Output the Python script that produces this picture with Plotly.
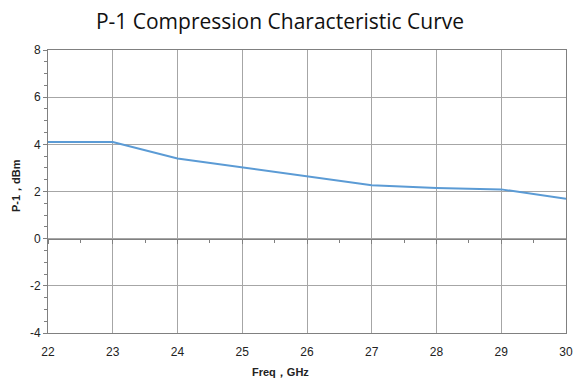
import plotly.graph_objects as go

freq = [22, 23, 24, 25, 26, 27, 28, 29, 30]
p1 = [4.1, 4.1, 3.4, 3.03, 2.63, 2.27, 2.15, 2.09, 1.69]
y_ticks = [-4, -2, 0, 2, 4, 6, 8]
y_labels = ["-4", "-2", "0", "2", "4", "6", "8"]

W, H = 576, 385
fig = go.Figure()
fig.add_trace(go.Scatter(x=freq, y=p1, mode="lines",
                         line=dict(color="#5b9bd5", width=2), showlegend=False))
# dummy trace for the secondary axis drawn at y=0
fig.add_trace(go.Scatter(x=[22, 30], y=[None, None], xaxis="x2", mode="lines",
                         showlegend=False, hoverinfo="skip"))

fig.update_layout(
    width=W, height=H,
    margin=dict(l=48, r=10, t=50, b=52),
    paper_bgcolor="white", plot_bgcolor="white",
    font=dict(family="Liberation Sans, Arial, sans-serif", color="#222"),
    title=dict(text="P-1 Compression Characteristic Curve", x=280 / W, xanchor="center",
               y=1 - 22 / H, yanchor="middle",
               font=dict(size=21, family="Open Sans, sans-serif", color="#111")),
    xaxis=dict(range=[22, 30], dtick=1, showgrid=True, gridcolor="#a6a6a6", gridwidth=1,
               showline=True, linecolor="#808080", linewidth=1, mirror=True,
               ticks="", zeroline=False, automargin=False, ticklabelstandoff=8,
               tickfont=dict(size=12, color="#222")),
    xaxis2=dict(range=[22, 30], overlaying="x", anchor="free", position=1/3,
                showline=True, linecolor="#808080", linewidth=1,
                showgrid=False, zeroline=False, showticklabels=False,
                ticks="outside", ticklen=4, tickcolor="#808080", dtick=1,
                minor=dict(ticks="outside", ticklen=3, tickcolor="#808080", dtick=0.5)),
    yaxis=dict(range=[-4, 8], tickvals=y_ticks, ticktext=y_labels,
               showgrid=True, gridcolor="#a6a6a6", gridwidth=1,
               showline=True, linecolor="#808080", linewidth=1, mirror=True,
               ticks="outside", ticklen=4, tickcolor="#808080", zeroline=False,
               automargin=False,
               minor=dict(ticks="outside", ticklen=3, tickcolor="#808080", dtick=0.5),
               tickfont=dict(size=12, color="#222")),
    annotations=[
        dict(text="<b>Freq，GHz</b>", xref="paper", yref="paper",
             x=(280 - 48) / (W - 58), y=-(372 - 333) / (H - 102),
             xanchor="center", yanchor="middle", showarrow=False,
             font=dict(size=11, color="#222")),
        dict(text="<b>P-1，dBm</b>", xref="paper", yref="paper",
             x=-(48 - 16) / (W - 58), y=(333 - 186) / (H - 102), textangle=-90,
             xanchor="center", yanchor="middle", showarrow=False,
             font=dict(size=11, color="#222")),
    ],
)

fig.write_html("out.html", config={"displayModeBar": False},
               post_script="document.body.style.margin='0';document.body.style.overflow='hidden';")
